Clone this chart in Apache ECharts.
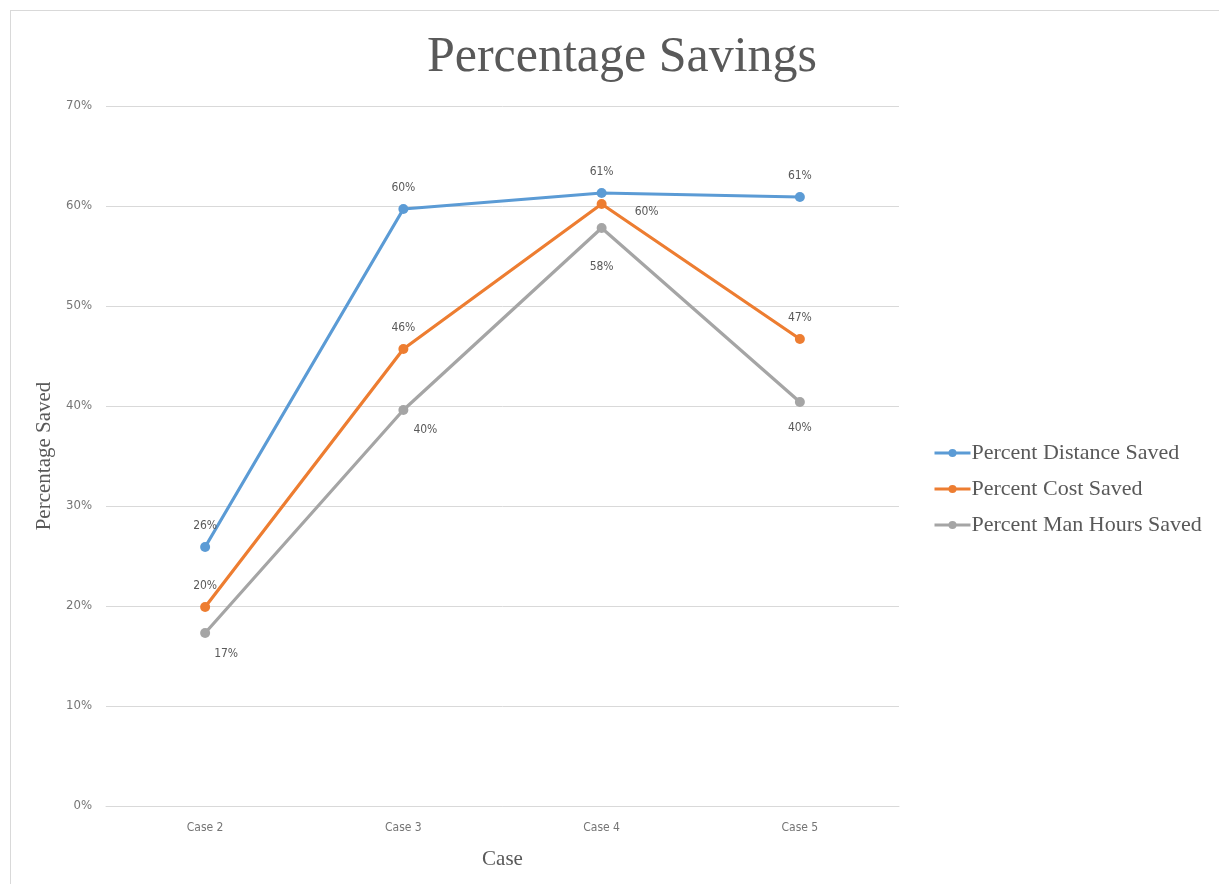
<!DOCTYPE html>
<html>
<head>
<meta charset="utf-8">
<script src="https://cdn.jsdelivr.net/npm/echarts@6/dist/echarts.min.js"></script>
<style>
html,body{margin:0;padding:0;background:#fff;}
#frame{position:absolute;left:10px;top:10px;width:1215px;height:880px;border:1px solid #d9d9d9;box-sizing:border-box;}
#main{position:absolute;left:0;top:0;width:1219px;height:884px;}
</style>
</head>
<body>
<div id="frame"></div>
<div id="main"></div>
<script>
// 数据
var categories = ['Case 2', 'Case 3', 'Case 4', 'Case 5'];
var distanceSaved = [25.9, 59.7, 61.3, 60.9];
var costSaved = [19.9, 45.7, 60.2, 46.7];
var manHoursSaved = [17.3, 39.6, 57.8, 40.4];
var yTicks = [0, 10, 20, 30, 40, 50, 60, 70];

var labelFont = {color: '#595959', fontSize: 12, fontFamily: 'DejaVu Sans Condensed, Liberation Sans, sans-serif'};
var serifFont = 'Liberation Serif, DejaVu Serif, serif';

function pct(p) { return Math.round(p.value) + '%'; }

// 每个点的标签位置
function withLabels(vals, labels) {
    return vals.map(function(v, i) {
        return {value: v, label: labels[i]};
    });
}

var myChart = echarts.init(document.getElementById('main'));

var option = {
    animation: false,
    title: {
        text: 'Percentage Savings',
        left: 617,
        top: 28,
        textAlign: 'center',
        textStyle: {color: '#595959', fontSize: 50, fontWeight: 'normal', fontFamily: serifFont}
    },
    legend: {
        orient: 'vertical',
        left: 928,
        top: 437,
        itemGap: 14,
        itemWidth: 36,
        itemHeight: 10,
        lineStyle: {width: 3},
        textStyle: {color: '#595959', fontSize: 22, fontFamily: serifFont, padding: [0, 0, 0, -4]},
        data: ['Percent Distance Saved', 'Percent Cost Saved', 'Percent Man Hours Saved']
    },
    grid: {
        left: 106,
        right: 320,
        top: 106,
        bottom: 78
    },
    xAxis: {
        type: 'category',
        boundaryGap: true,
        data: categories,
        name: 'Case',
        nameLocation: 'middle',
        nameGap: 43,
        nameTextStyle: {color: '#595959', fontSize: 21, fontFamily: serifFont},
        axisLine: {lineStyle: {color: '#d9d9d9', width: 1}},
        axisTick: {show: false},
        axisLabel: {color: '#757575', fontSize: 12, margin: 16, fontFamily: 'DejaVu Sans Condensed, Liberation Sans, sans-serif'}
    },
    yAxis: {
        type: 'value',
        min: yTicks[0],
        max: yTicks[yTicks.length - 1],
        interval: 10,
        name: 'Percentage Saved',
        nameLocation: 'middle',
        nameGap: 50,
        nameTextStyle: {color: '#595959', fontSize: 21, fontFamily: serifFont},
        axisLine: {show: false},
        axisTick: {show: false},
        axisLabel: {color: '#757575', fontSize: 13, margin: 14, formatter: '{value}%', fontFamily: 'DejaVu Sans Condensed, Liberation Sans, sans-serif'},
        splitLine: {lineStyle: {color: '#d9d9d9', width: 1}}
    },
    series: [
        {
            name: 'Percent Distance Saved',
            type: 'line',
            data: distanceSaved,
            symbol: 'circle',
            symbolSize: 10,
            lineStyle: {width: 3.2},
            itemStyle: {color: '#5b9bd5'},
            label: Object.assign({show: true, position: 'top', distance: 10, formatter: pct}, labelFont)
        },
        {
            name: 'Percent Cost Saved',
            type: 'line',
            data: withLabels(costSaved, [
                {position: 'top', distance: 10},
                {position: 'top', distance: 10},
                {position: 'right', distance: 0, offset: [28, 8]},
                {position: 'top', distance: 10}
            ]),
            symbol: 'circle',
            symbolSize: 10,
            lineStyle: {width: 3.2},
            itemStyle: {color: '#ed7d31'},
            label: Object.assign({show: true, formatter: pct}, labelFont)
        },
        {
            name: 'Percent Man Hours Saved',
            type: 'line',
            data: withLabels(manHoursSaved, [
                {position: 'bottom', distance: 10, offset: [21, 0]},
                {position: 'bottom', distance: 9, offset: [22, 0]},
                {position: 'bottom', distance: 28},
                {position: 'bottom', distance: 15}
            ]),
            symbol: 'circle',
            symbolSize: 10,
            lineStyle: {width: 3.2},
            itemStyle: {color: '#a5a5a5'},
            label: Object.assign({show: true, formatter: pct}, labelFont)
        }
    ]
};

myChart.setOption(option);
</script>
</body>
</html>
